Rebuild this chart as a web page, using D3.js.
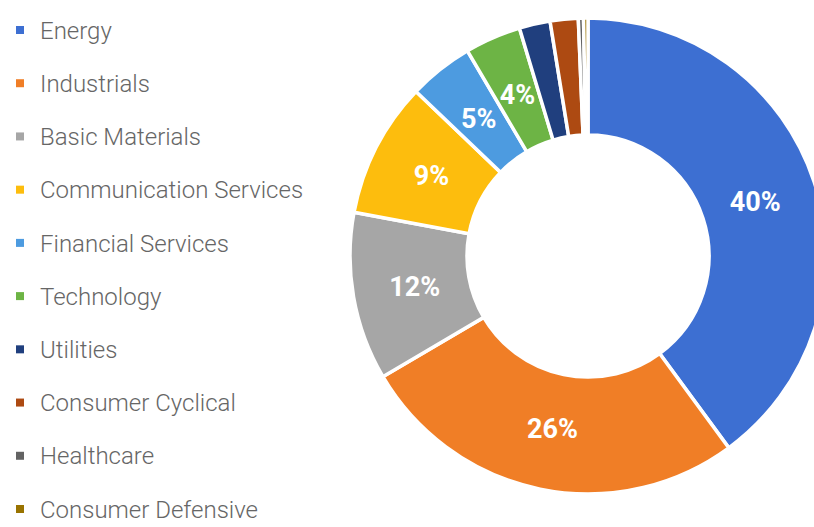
<!DOCTYPE html>
<html><head><meta charset="utf-8">
<script src="https://cdn.jsdelivr.net/npm/d3@7"></script>
<style>
html,body{margin:0;padding:0;background:#fff;}
svg{display:block;}
</style></head>
<body>
<svg id="chart" width="814" height="527"></svg>
<script>
const categories = ["Energy","Industrials","Basic Materials","Communication Services","Financial Services","Technology","Utilities","Consumer Cyclical","Healthcare","Consumer Defensive"];
const values = [39.9, 26.6, 11.4, 9.2, 4.4, 3.8, 2.1, 1.9, 0.35, 0.3];
const sliceLabels = ["40%","26%","12%","9%","5%","4%","","","",""];
const colors = ["#3d6fd2","#f07e26","#a6a6a6","#fdbd0d","#4d9be0","#6db445","#203f7e","#ad4a12","#636363","#997300"];

const svg = d3.select("#chart");
const color = d3.scaleOrdinal().domain(categories).range(colors);

// Legend
const legendY = d3.scalePoint().domain(categories).range([30, 509]);
const lg = svg.append("g");
const rows = lg.selectAll("g").data(categories).join("g")
  .attr("transform", d => `translate(0,${legendY(d)})`);
rows.append("rect").attr("x", 16).attr("y", -4).attr("width", 8).attr("height", 8)
  .attr("fill", d => color(d));
rows.append("text").attr("x", 40).attr("y", 0).attr("dy", "0.36em")
  .attr("font-family", "Roboto, 'Liberation Sans', sans-serif")
  .attr("font-weight", 300)
  .attr("font-size", 24).attr("fill", "#666").text(d => d);

// Donut
const cx = 588, cy = 256, rOuter = 238, rInner = 121;
const pie = d3.pie().sort(null).value(d => d.v);
const data = categories.map((c, i) => ({c, v: values[i], label: sliceLabels[i]}));
const arcs = pie(data);
const arc = d3.arc().innerRadius(rInner).outerRadius(rOuter);
const labelArc = d3.arc().innerRadius(176).outerRadius(176);
const g = svg.append("g").attr("transform", `translate(${cx},${cy})`);
g.selectAll("path").data(arcs).join("path")
  .attr("d", arc).attr("fill", d => color(d.data.c))
  .attr("stroke", "#fff").attr("stroke-width", 3.5).attr("stroke-linejoin", "miter");
g.selectAll("text").data(arcs.filter(d => d.data.label)).join("text")
  .attr("transform", d => `translate(${labelArc.centroid(d)})`)
  .attr("text-anchor", "middle").attr("dy", "0.36em")
  .attr("font-family", "Roboto, 'Liberation Sans', sans-serif")
  .attr("font-weight", "bold").attr("font-size", 27).attr("fill", "#fff")
  .text(d => d.data.label);
</script>
</body></html>
